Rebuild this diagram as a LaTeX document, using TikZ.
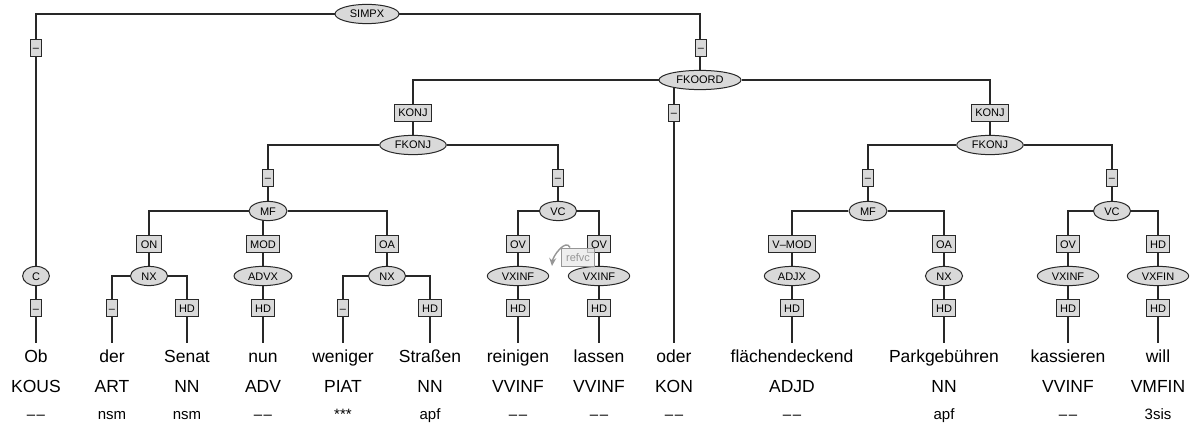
\documentclass[tikz,border=0pt]{standalone}
\usepackage{fontspec}
\setmainfont{Liberation Sans}
\usetikzlibrary{arrows.meta, shapes.geometric, backgrounds}
\definecolor{catfill}  {RGB}{217, 217, 217}
\definecolor{treeline} {RGB}{40,  40,  40}
\definecolor{refgray}  {RGB}{150, 150, 150}
\definecolor{reffill}  {RGB}{232, 232, 232}
\newcommand{\nomorph}{–\kern1.5pt–}

\begin{document}
\begin{tikzpicture}[x=1pt, y=-1pt,
	cat/.style={ellipse, draw=treeline, fill=catfill, line width=1pt,
		font=\fontsize{11}{13}\selectfont, text height=8pt, text depth=0pt,
		inner xsep=5.5pt, inner ysep=2.8pt},
	elab/.style={rectangle, draw=treeline, fill=catfill, line width=1pt,
		font=\fontsize{11}{13}\selectfont, text height=8pt, text depth=0pt,
		inner xsep=4pt, inner ysep=0pt, minimum height=17pt},
	nolab/.style={elab, inner xsep=2pt},
	word/.style={font=\fontsize{17.5}{20}\selectfont, anchor=base,
		text height=13pt, text depth=4pt, inner xsep=1pt, inner ysep=6pt},
	postag/.style={font=\fontsize{17.5}{20}\selectfont, anchor=base},
	morph/.style={font=\fontsize{15}{18}\selectfont, anchor=base},
	branch/.style={draw=treeline, line width=1.1pt},
	refbox/.style={rectangle, draw=refgray, fill=reffill, fill opacity=0.75, text opacity=1,
		text=refgray, line width=1pt,
		font=\fontsize{11}{13}\selectfont, text height=8pt, text depth=0pt,
		inner xsep=5pt, minimum height=18pt},
	refarrow/.style={draw=refgray, line width=1.4pt, -{Stealth[length=8pt,width=7pt]}}
]
\useasboundingbox (0,0) rectangle (1192,425);

% terminals
\foreach \x/\w/\p/\m/\n in {36/Ob/KOUS/\nomorph/ob, 112/der/ART/nsm/der, 187/Senat/NN/nsm/senat,
	263/nun/ADV/\nomorph/nun, 343/weniger/PIAT/***/weniger, 430/Straßen/NN/apf/strassen,
	518/reinigen/VVINF/\nomorph/reinigen, 599/lassen/VVINF/\nomorph/lassen, 674/oder/KON/\nomorph/oder,
	792/flächendeckend/ADJD/\nomorph/flaechendeckend, 944/Parkgebühren/NN/apf/parkgebuehren,
	1068/kassieren/VVINF/\nomorph/kassieren, 1158/will/VMFIN/3sis/will}{
	\node[word] (w-\n) at (\x,362) {\w};
	\node[postag] (p-\n) at (\x,392) {\p};
	\node[morph] (m-\n) at (\x,419) {\m};
}

% categories
\node[cat] (simpx) at (367,14) {SIMPX};
\node[cat] (fkoord) at (700,80) {FKOORD};
\node[cat] (fkonja) at (413,145) {FKONJ};
\node[cat] (fkonjb) at (990,145) {FKONJ};
\node[cat] (mfa) at (268,211) {MF};
\node[cat] (vca) at (558,211) {VC};
\node[cat] (mfb) at (868,211) {MF};
\node[cat] (vcb) at (1112,211) {VC};
\node[cat] (c) at (36,276) {C};
\node[cat] (nxa) at (149,276) {NX};
\node[cat] (advx) at (263,276) {ADVX};
\node[cat] (nxb) at (387,276) {NX};
\node[cat] (vxinfa) at (518,276) {VXINF};
\node[cat] (vxinfb) at (599,276) {VXINF};
\node[cat] (adjx) at (792,276) {ADJX};
\node[cat] (nxc) at (944,276) {NX};
\node[cat] (vxinfc) at (1068,276) {VXINF};
\node[cat] (vxfin) at (1158,276) {VXFIN};

% edge labels
\node[nolab] (l-c) at (36,48) {–};
\node[nolab] (l-fkoord) at (701,48) {–};
\node[elab] (l-fkonja) at (413,113) {KONJ};
\node[nolab] (l-oder) at (674,113) {–};
\node[elab] (l-fkonjb) at (990,113) {KONJ};
\foreach \x/\n in {268/mfa, 558/vca, 868/mfb, 1112/vcb}
	\node[nolab] (l-\n) at (\x,178) {–};
\foreach \x/\t/\n in {149/ON/nxa, 263/MOD/advx, 387/OA/nxb, 518/OV/vxinfa, 599/OV/vxinfb,
	792/V–MOD/adjx, 944/OA/nxc, 1068/OV/vxinfc, 1158/HD/vxfin}
	\node[elab] (l-\n) at (\x,244) {\t};
\foreach \x/\n in {36/ob, 112/der, 343/weniger}
	\node[nolab] (l-\n) at (\x,308) {–};
\foreach \x/\n in {187/senat, 263/nun, 430/strassen, 518/reinigen, 599/lassen,
	792/flaechendeckend, 944/parkgebuehren, 1068/kassieren, 1158/will}
	\node[elab] (l-\n) at (\x,308) {HD};

% secondary edge
\node[refbox] (refvc) at (578,257) {refvc};
\coordinate (refvc-tip) at (552,266);
\draw[refarrow] (refvc.130) to[out=115,in=85] (refvc-tip);

\begin{scope}[on background layer]
	\draw[branch] (simpx) -| (c);
	\draw[branch] (c) -- (w-ob);
	\draw[branch] (simpx) -| (fkoord);
	\draw[branch] (fkoord) -| (fkonja);
	\draw[branch] (fkoord) -| (w-oder);
	\draw[branch] (fkoord) -| (fkonjb);
	\draw[branch] (fkonja) -| (mfa);
	\draw[branch] (fkonja) -| (vca);
	\draw[branch] (mfa) -| (nxa);
	\draw[branch] (mfa) -| (advx);
	\draw[branch] (mfa) -| (nxb);
	\draw[branch] (nxa) -| (w-der);
	\draw[branch] (nxa) -| (w-senat);
	\draw[branch] (advx) -- (w-nun);
	\draw[branch] (nxb) -| (w-weniger);
	\draw[branch] (nxb) -| (w-strassen);
	\draw[branch] (vca) -| (vxinfa);
	\draw[branch] (vca) -| (vxinfb);
	\draw[branch] (vxinfa) -- (w-reinigen);
	\draw[branch] (vxinfb) -- (w-lassen);
	\draw[branch] (fkonjb) -| (mfb);
	\draw[branch] (fkonjb) -| (vcb);
	\draw[branch] (mfb) -| (adjx);
	\draw[branch] (mfb) -| (nxc);
	\draw[branch] (adjx) -- (w-flaechendeckend);
	\draw[branch] (nxc) -- (w-parkgebuehren);
	\draw[branch] (vcb) -| (vxinfc);
	\draw[branch] (vcb) -| (vxfin);
	\draw[branch] (vxinfc) -- (w-kassieren);
	\draw[branch] (vxfin) -- (w-will);
\end{scope}
\end{tikzpicture}
\end{document}
